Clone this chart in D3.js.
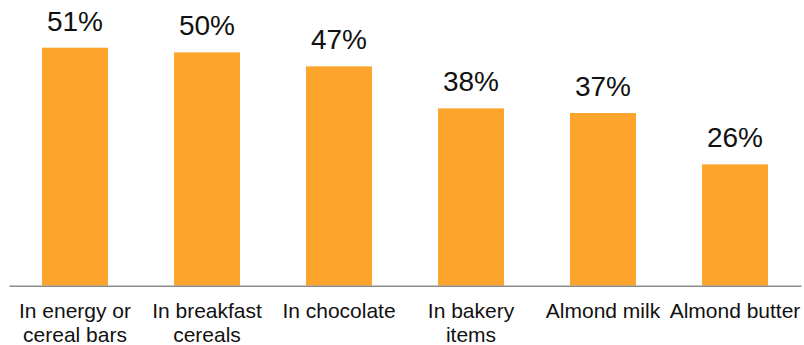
<!DOCTYPE html>
<html>
<head>
<meta charset="utf-8">
<script src="https://cdn.jsdelivr.net/npm/d3@7"></script>
<style>
  body { margin: 0; background: #fff; }
  text { font-family: "Liberation Sans", Arial, sans-serif; }
</style>
</head>
<body>
<div id="chart"></div>
<script>
const categories = ["In energy or cereal bars", "In breakfast cereals", "In chocolate",
    "In bakery items", "Almond milk", "Almond butter"];
const values = [51, 50, 47, 38, 37, 26];
const valueLabels = ["51%", "50%", "47%", "38%", "37%", "26%"];

const width = 804;
const height = 345;
const margin = { left: 9, right: 3 };
const baseline = 285.7;

const svg = d3.select("#chart")
    .append("svg")
    .attr("width", width)
    .attr("height", height);

const xScale = d3.scaleBand()
    .domain(categories)
    .range([margin.left, width - margin.right])
    .paddingInner(0.5)
    .paddingOuter(0.25);

const yScale = d3.scaleLinear()
    .domain([0, 60])
    .range([baseline, baseline - 280]);

const data = categories.map((c, i) => ({ cat: c, value: values[i], label: valueLabels[i] }));

svg.selectAll(".bar")
    .data(data)
    .enter()
    .append("rect")
    .attr("class", "bar")
    .attr("x", d => xScale(d.cat))
    .attr("y", d => yScale(d.value))
    .attr("width", xScale.bandwidth())
    .attr("height", d => baseline - yScale(d.value))
    .attr("fill", "#FCA42B");

svg.selectAll(".val")
    .data(data)
    .enter()
    .append("text")
    .attr("class", "val")
    .attr("x", d => xScale(d.cat) + xScale.bandwidth() / 2)
    .attr("y", d => yScale(d.value) - 17)
    .attr("text-anchor", "middle")
    .style("font-size", "28px")
    .style("fill", "#111")
    .text(d => d.label);

// x axis: baseline line + wrapped category labels
const xAxis = svg.append("g")
    .attr("transform", `translate(0,${baseline})`)
    .call(d3.axisBottom(xScale).tickSize(0).tickPadding(17));

xAxis.select(".domain")
    .attr("stroke", "#8c8c8c")
    .attr("stroke-width", 1.5);

xAxis.selectAll(".tick text")
    .style("font-size", "21px")
    .style("font-family", "'Liberation Sans', Arial, sans-serif")
    .attr("fill", "#111")
    .call(wrap, xScale.step() + 2);

function wrap(texts, w) {
    texts.each(function () {
        const text = d3.select(this);
        const words = text.text().split(/\s+/);
        const y = text.attr("y");
        const dy = parseFloat(text.attr("dy")) || 0;
        let line = [];
        let lineNo = 0;
        let tspan = text.text(null).append("tspan").attr("x", 0).attr("y", y).attr("dy", dy + "em");
        words.forEach(word => {
            line.push(word);
            tspan.text(line.join(" "));
            if (tspan.node().getComputedTextLength() > w && line.length > 1) {
                line.pop();
                tspan.text(line.join(" "));
                line = [word];
                lineNo++;
                tspan = text.append("tspan").attr("x", 0).attr("y", y)
                    .attr("dy", (dy + lineNo * 1.14) + "em").text(word);
            }
        });
    });
}
</script>
</body>
</html>
